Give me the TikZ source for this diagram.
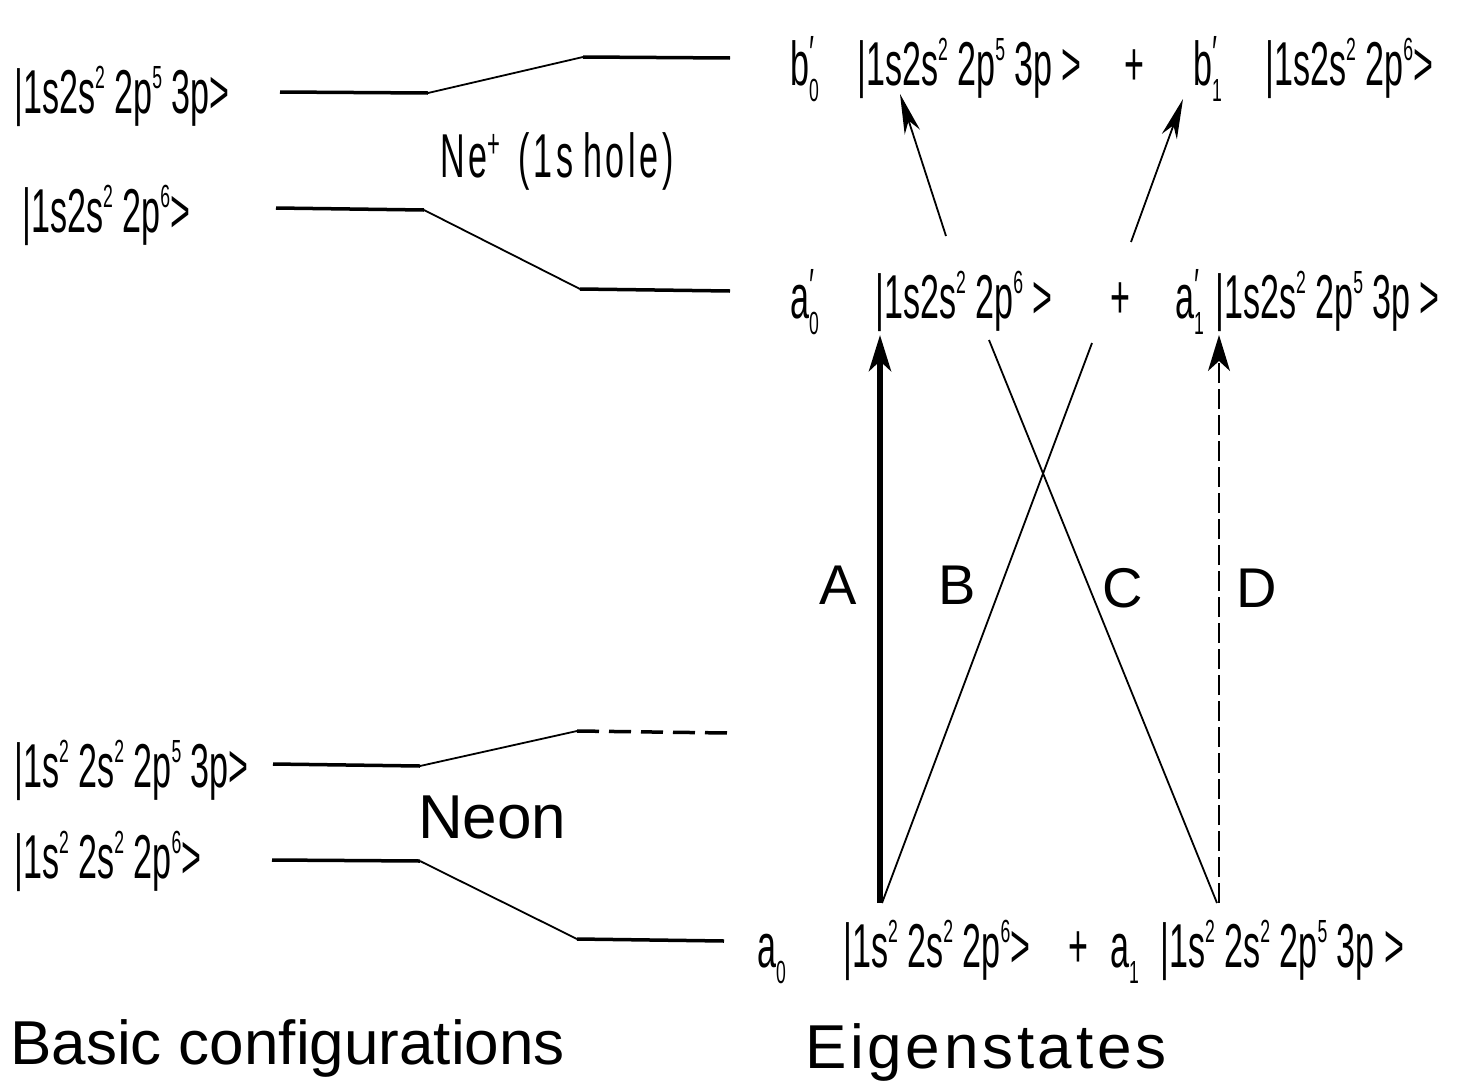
\documentclass[tikz,border=0pt]{standalone}
\usepackage{fontspec}
\setmainfont{Liberation Sans}
\newfontfamily\cond[FakeStretch=0.55]{Liberation Sans}
\usetikzlibrary{arrows.meta}
\newcommand\kup[1]{\raisebox{25pt}{\fontsize{32}{32}\selectfont #1}}
\newcommand\kpr[1]{\raisebox{16pt}{\fontsize{48}{48}\selectfont #1}}
\newcommand\kdn[1]{\raisebox{-16pt}{\fontsize{32}{32}\selectfont #1}}
\newcommand\coef[3]{#1\rlap{\kpr{#2}}\kdn{#3}}
\tikzset{
  ket/.style={anchor=base west, inner sep=0pt, font=\cond\fontsize{62}{70}\selectfont},
  big/.style={inner sep=0pt, font=\fontsize{62}{70}\selectfont},
  level/.style={line width=3.5pt},
  slant/.style={line width=1.8pt},
  trans/.style={line width=1.8pt},
  uparrow/.style={line width=1.8pt, -{Stealth[length=40pt,width=16pt,inset=12pt]}},
  letter/.style={inner sep=0pt, font=\fontsize{56}{60}\selectfont},
}
\begin{document}
\begin{tikzpicture}[x=1pt,y=-1pt]
\useasboundingbox (0,0) rectangle (1473,1087);
% left labels
\node[ket] (k1) at (14,113) {|1s2s\kup{2} 2p\kup{5} 3p>};
\node[ket] (k2) at (22,232) {|1s2s\kup{2} 2p\kup{6}>};
\node[ket] (k3) at (14,787) {|1s\kup{2} 2s\kup{2} 2p\kup{5} 3p>};
\node[ket] (k4) at (14,878) {|1s\kup{2} 2s\kup{2} 2p\kup{6}>};
\node[ket, font=\cond\addfontfeature{LetterSpace=6}\fontsize{62}{70}\selectfont] (nep) at (440,177) {Ne\raisebox{20pt}{\fontsize{40}{40}\selectfont +}\hspace{18pt}(1s\hspace{10pt}hole)};
\node[big, anchor=base west] (neon) at (418,838) {Neon};
\node[big, anchor=base west] (basic) at (10,1064) {Basic configurations};
\node[big, anchor=base west, font=\addfontfeature{LetterSpace=6}\fontsize{62}{70}\selectfont] (eig) at (805,1068) {Eigenstates};
% level coordinates
\coordinate (p1a) at (280,92); \coordinate (p1b) at (428,93); \coordinate (p1c) at (583,57); \coordinate (p1d) at (730,58);
\coordinate (p2a) at (276,208); \coordinate (p2b) at (424,210); \coordinate (p2c) at (580,289); \coordinate (p2d) at (730,291);
\coordinate (p3a) at (273,764); \coordinate (p3b) at (420,766); \coordinate (p3c) at (577,731); \coordinate (p3d) at (728,733);
\coordinate (p4a) at (272,860); \coordinate (p4b) at (420,861); \coordinate (p4c) at (577,939); \coordinate (p4d) at (724,941);
\draw[level] (p1a) -- (p1b); \draw[slant] (p1b) -- (p1c); \draw[level] (p1c) -- (p1d);
\draw[level] (p2a) -- (p2b); \draw[slant] (p2b) -- (p2c); \draw[level] (p2c) -- (p2d);
\draw[level] (p3a) -- (p3b); \draw[slant] (p3b) -- (p3c); \draw[level, dash pattern=on 22pt off 10pt] (p3c) -- (p3d);
\draw[level] (p4a) -- (p4b); \draw[slant] (p4b) -- (p4c); \draw[level] (p4c) -- (p4d);
% right: top row
\node[ket] (b0) at (790,85) {\coef{b}{′}{0}};
\node[ket] (kb0) at (857,85) {|1s2s\kup{2} 2p\kup{5} 3p >};
\node[ket] (plus1) at (1124,85) {+};
\node[ket] (b1) at (1193,85) {\coef{b}{′}{1}};
\node[ket] (kb1) at (1265,85) {|1s2s\kup{2} 2p\kup{6}>};
% middle row
\node[ket] (a0p) at (790,318) {\coef{a}{′}{0}};
\node[ket] (ka0p) at (875,318) {|1s2s\kup{2} 2p\kup{6} >};
\node[ket] (plus2) at (1110,318) {+};
\node[ket] (a1p) at (1175,318) {\coef{a}{′}{1}};
\node[ket] (ka1p) at (1215,318) {|1s2s\kup{2} 2p\kup{5} 3p >};
% bottom row
\node[ket] (a0) at (757,967) {\coef{a}{}{0}};
\node[ket] (ka0) at (843,967) {|1s\kup{2} 2s\kup{2} 2p\kup{6}>};
\node[ket] (plus3) at (1068,967) {+};
\node[ket] (a1) at (1110,967) {\coef{a}{}{1}};
\node[ket] (ka1) at (1160,967) {|1s\kup{2} 2s\kup{2} 2p\kup{5} 3p >};
% transition coordinates
\coordinate (As) at (880,903); \coordinate (Ae) at (880,335);
\coordinate (Bs) at (882,903); \coordinate (Be) at (1092,343);
\coordinate (Cs) at (989,340); \coordinate (Ce) at (1217,903);
\coordinate (Ds) at (1219,903); \coordinate (De) at (1219,335);
\coordinate (Es) at (946,236); \coordinate (Ee) at (900,94);
\coordinate (Fs) at (1131,242); \coordinate (Fe) at (1183,99);
\draw[line width=6pt, -{Stealth[length=36pt,width=22pt,inset=10pt]}] (As) -- (Ae);
\draw[trans] (Bs) -- (Be);
\draw[trans] (Cs) -- (Ce);
\draw[line width=1.8pt, dash pattern=on 20pt off 6pt, -{Stealth[length=36pt,width=22pt,inset=10pt]}] (Ds) -- (De);
\draw[uparrow] (Es) -- (Ee);
\draw[uparrow] (Fs) -- (Fe);
\node[letter] (lA) at (838,585) {A};
\node[letter] (lB) at (957,585) {B};
\node[letter] (lC) at (1123,588) {C};
\node[letter] (lD) at (1257,588) {D};
\end{tikzpicture}
\end{document}
